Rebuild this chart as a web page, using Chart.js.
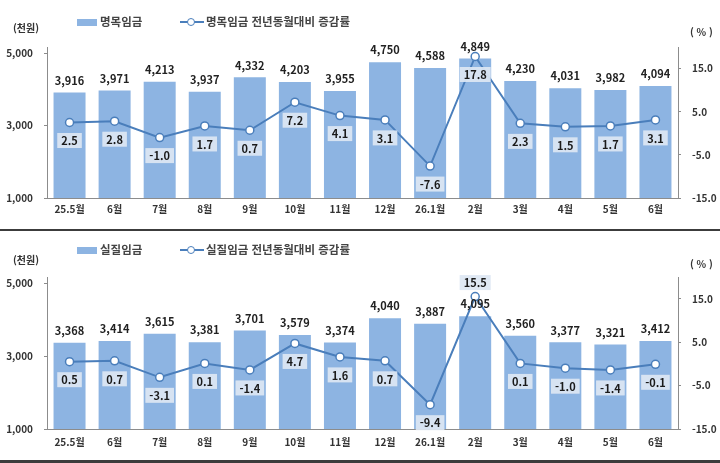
<!DOCTYPE html>
<html lang="ko">
<head>
<meta charset="utf-8">
<script src="https://cdn.jsdelivr.net/npm/chart.js@4.4.1/dist/chart.umd.min.js"></script>
<style>
  html,body{margin:0;padding:0;background:#fff;}
  body{width:720px;height:463px;position:relative;overflow:hidden;font-family:"Noto Sans CJK KR","Noto Sans",sans-serif;}
  .panel{position:absolute;left:0;width:720px;}
  .panel canvas{position:absolute;left:0;top:0;}
  .txt{position:absolute;font-weight:bold;color:#333;white-space:nowrap;line-height:1;}
  .unit{font-size:10px;transform:translateY(-50%);}
  .leg{font-size:11.5px;color:#444;transform:translateY(-50%);}
  .legBox{position:absolute;width:20px;height:7px;background:#8db4e2;}
  .legLine{position:absolute;width:24px;height:2px;background:#4a7ebb;}
  .legDot{position:absolute;width:6px;height:6px;border:1.5px solid #4a7ebb;background:#fff;border-radius:50%;}
  .sep{position:absolute;left:0;width:720px;background:#3c3c3c;}
</style>
</head>
<body>
<div class="panel" style="top:0;height:229px;">
  <canvas id="c1" width="720" height="229"></canvas>
  <div class="txt unit" style="left:13px;top:28px;">(천원)</div>
  <div class="txt unit" style="left:690px;top:32px;">( % )</div>
  <div class="legBox" style="left:77px;top:19px;"></div>
  <div class="txt leg" style="left:100px;top:22px;">명목임금</div>
  <div class="legLine" style="left:180px;top:21px;"></div>
  <div class="legDot" style="left:187px;top:17.5px;"></div>
  <div class="txt leg" style="left:206px;top:22px;">명목임금 전년동월대비 증감률</div>
</div>
<div class="sep" style="top:229px;height:2px;"></div>
<div class="panel" style="top:231px;height:232px;">
  <canvas id="c2" width="720" height="232"></canvas>
  <div class="txt unit" style="left:13px;top:29px;">(천원)</div>
  <div class="txt unit" style="left:690px;top:33px;">( % )</div>
  <div class="legBox" style="left:77px;top:16px;"></div>
  <div class="txt leg" style="left:100px;top:19px;">실질임금</div>
  <div class="legLine" style="left:180px;top:18px;"></div>
  <div class="legDot" style="left:187px;top:14.5px;"></div>
  <div class="txt leg" style="left:206px;top:19px;">실질임금 전년동월대비 증감률</div>
</div>
<div class="sep" style="top:460px;height:3px;"></div>

<script>
const months = ['25.5월','6월','7월','8월','9월','10월','11월','12월','26.1월','2월','3월','4월','5월','6월'];
const nominalWage = [3916, 3971, 4213, 3937, 4332, 4203, 3955, 4750, 4588, 4849, 4230, 4031, 3982, 4094];
const nominalRate = [2.5, 2.8, -1.0, 1.7, 0.7, 7.2, 4.1, 3.1, -7.6, 17.8, 2.3, 1.5, 1.7, 3.1];
const realWage = [3368, 3414, 3615, 3381, 3701, 3579, 3374, 4040, 3887, 4095, 3560, 3377, 3321, 3412];
const realRate = [0.5, 0.7, -3.1, 0.1, -1.4, 4.7, 1.6, 0.7, -9.4, 15.5, 0.1, -1.0, -1.4, -0.1];
const wageTicks = [1000, 3000, 5000];
const rateTicks = [-15, -5, 5, 15];

const FONT = '"Noto Sans CJK KR","Noto Sans",sans-serif';
const BAR_COLOR = '#8db4e2';
const LINE_COLOR = '#4a7ebb';

const labelPlugin = {
  id: 'valueLabels',
  afterDatasetsDraw(chart, args, opts) {
    const ctx = chart.ctx;
    const barMeta = chart.getDatasetMeta(1);
    const lineMeta = chart.getDatasetMeta(0);
    const barData = chart.data.datasets[1].data;
    const lineData = chart.data.datasets[0].data;
    ctx.save();
    ctx.textAlign = 'center';
    ctx.textBaseline = 'middle';
    ctx.font = 'bold 11px ' + FONT;
    lineMeta.data.forEach((pt, i) => {
      const txt = lineData[i].toFixed(1);
      const above = opts.aboveIndex === i;
      const cy = above ? pt.y - 14 : pt.y + 18;
      const w = ctx.measureText(txt).width + 8, h = 15;
      ctx.fillStyle = 'rgba(221,231,243,0.92)';
      ctx.fillRect(pt.x - w / 2, cy - h / 2, w, h);
      ctx.fillStyle = '#1a1a1a';
      ctx.fillText(txt, pt.x, cy + 0.5);
    });
    barMeta.data.forEach((bar, i) => {
      ctx.fillStyle = '#222';
      ctx.fillText(barData[i].toLocaleString('en-US'), bar.x, bar.y - 12);
    });
    ctx.restore();
  }
};

function makeChart(id, wages, rates, wageLabel, rateLabel, cfg) {
  return new Chart(document.getElementById(id), {
    type: 'bar',
    data: {
      labels: months,
      datasets: [
        {
          type: 'line', label: rateLabel, data: rates, yAxisID: 'y1', order: 0,
          borderColor: LINE_COLOR, borderWidth: 2, tension: 0,
          pointRadius: 4, pointBackgroundColor: '#fff', pointBorderColor: LINE_COLOR, pointBorderWidth: 1.5
        },
        {
          type: 'bar', label: wageLabel, data: wages, yAxisID: 'y', order: 1,
          backgroundColor: BAR_COLOR, barPercentage: 0.71, categoryPercentage: 1.0
        }
      ]
    },
    options: {
      responsive: false,
      animation: false,
      devicePixelRatio: 1,
      layout: { padding: { top: cfg.top, left: 0, right: 0, bottom: 0 } },
      plugins: { legend: { display: false }, tooltip: { enabled: false }, valueLabels: { aboveIndex: cfg.aboveIndex } },
      scales: {
        x: {
          grid: { display: false, drawTicks: false },
          border: { display: true, color: '#8c8c8c', width: 1 },
          ticks: { color: '#333', font: { family: FONT, size: 10, weight: 'bold' }, padding: cfg.xPad, maxRotation: 0, autoSkip: false },
          afterFit(s) { s.height = cfg.xHeight; }
        },
        y: {
          position: 'left', min: 1000, max: 5170,
          afterBuildTicks(s) { s.ticks = wageTicks.map(v => ({ value: v })); },
          grid: { drawOnChartArea: false, drawTicks: true, tickLength: 3, color: '#8c8c8c' },
          border: { display: true, color: '#8c8c8c', width: 1 },
          ticks: { color: '#333', font: { family: FONT, size: 10, weight: 'bold' }, padding: 11,
                   callback: v => v.toLocaleString('en-US') },
          afterFit(s) { s.width = 47; }
        },
        y1: {
          position: 'right', min: -15, max: 20,
          afterBuildTicks(s) { s.ticks = rateTicks.map(v => ({ value: v })); },
          grid: { drawOnChartArea: false, drawTicks: true, tickLength: 3, color: '#8c8c8c' },
          border: { display: true, color: '#8c8c8c', width: 1 },
          ticks: { color: '#333', font: { family: FONT, size: 10, weight: 'bold' }, padding: 11,
                   callback: v => Number(v).toFixed(1) },
          afterFit(s) { s.width = 42; }
        }
      }
    },
    plugins: [labelPlugin]
  });
}

makeChart('c1', nominalWage, nominalRate, '명목임금', '명목임금 전년동월대비 증감률',
  { top: 47, xHeight: 31, xPad: 5, aboveIndex: -1 });
makeChart('c2', realWage, realRate, '실질임금', '실질임금 전년동월대비 증감률',
  { top: 46, xHeight: 34, xPad: 7, aboveIndex: 9 });
</script>
</body>
</html>
